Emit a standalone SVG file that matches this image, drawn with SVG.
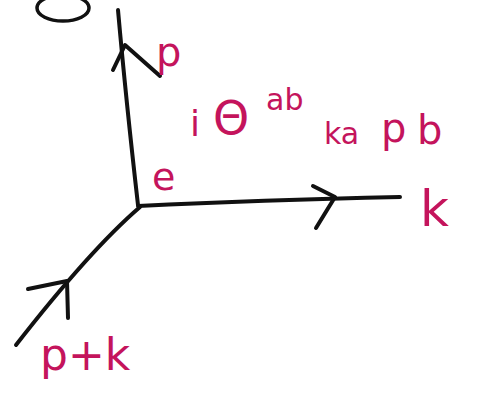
<svg xmlns="http://www.w3.org/2000/svg" width="480" height="393" viewBox="0 0 480 393">
<style>
.ln{fill:none;stroke:#111;stroke-width:4;stroke-linecap:round;stroke-linejoin:round}
.lb{fill:#c4145c;font-family:"DejaVu Sans","Liberation Sans",sans-serif}
</style>
<rect width="480" height="393" fill="#fff"/>
<g id="connectors">
<path class="ln" d="M118 10 Q126 100 138 205"/>
<path class="ln" d="M113 70 L125 45 L160 76"/>
<path class="ln" d="M138 206 Q260 200 400 197"/>
<path class="ln" d="M313 186 L335 197 L316 228"/>
<path class="ln" d="M140 207 Q90 250 16 345"/>
<path class="ln" d="M28 289 L67 281 L68 318"/>
</g>
<g id="top-ellipse"><ellipse cx="63" cy="8" rx="26" ry="13" class="ln" style="stroke-width:3.5"/></g>
<g id="label-p"><text class="lb" x="156" y="66" font-size="40">p</text></g>
<g id="label-vertex">
<text class="lb" x="152" y="190" font-size="38">e</text>
<text class="lb" x="190" y="136" font-size="36">i</text>
<text class="lb" x="213" y="134" font-size="46">Θ</text>
<text class="lb" x="266" y="110" font-size="30">ab</text>
<text class="lb" x="324" y="144" font-size="30">ka</text>
<text class="lb" x="381" y="142" font-size="40">p</text>
<text class="lb" x="417" y="144" font-size="40">b</text>
</g>
<g id="label-k"><text class="lb" x="420" y="226" font-size="50">k</text></g>
<g id="label-pk"><text class="lb" x="40" y="370" font-size="44">p+k</text></g>
</svg>
